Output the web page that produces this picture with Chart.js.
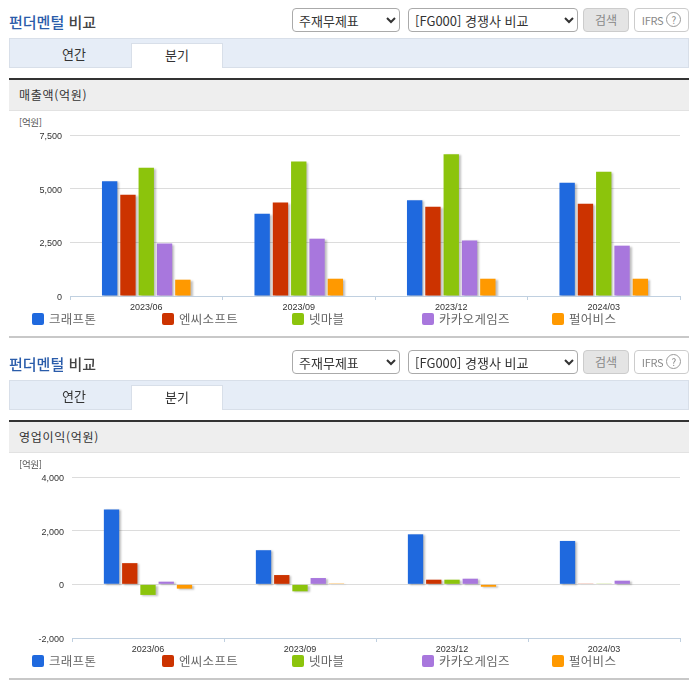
<!DOCTYPE html>
<html lang="ko">
<head>
<meta charset="utf-8">
<title>펀더멘털 비교</title>
<script src="https://cdn.jsdelivr.net/npm/chart.js@4"></script>
<style>
html, body { margin: 0; padding: 0; background: #fff; }
body { position: relative; width: 696px; height: 684px; overflow: hidden; font-family: "Noto Sans CJK KR", "Noto Sans", sans-serif; color: #333; }
.section { position: absolute; left: 0; width: 696px; height: 342px; }
.section > * { position: absolute; box-sizing: border-box; }
.title { left: 9px; top: 11px; font-size: 15px; font-weight: 500; line-height: 22px; color: #444; }
.title b { font-weight: 500; color: #2a5caa; }
select { height: 24px; top: 8px; font-size: 13px; font-family: inherit; color: #333; background: #fff; border: 1px solid #aaa; border-radius: 4px; padding: 0 2px; }
.btn { top: 8px; height: 24px; border: 1px solid #ccc; border-radius: 4px; font-size: 12px; line-height: 22px; text-align: center; color: #888; }
.btn em { display: inline-block; width: 13px; height: 13px; margin-left: 3px; border: 1px solid #999; border-radius: 50%; font-style: normal; font-size: 10px; line-height: 13px; vertical-align: 1px; }
.tabs { left: 9px; top: 38px; width: 680px; height: 30px; background: #e6edf7; border: 1px solid #d8dfe9; }
.tab { top: 43px; height: 25px; width: 92px; font-size: 13px; line-height: 22px; text-align: center; }
.tab.on { background: #fff; border: 1px solid #d8dfe9; border-bottom: none; }
.dark { left: 9px; top: 78px; width: 680px; height: 2px; background: #333; }
.strip { left: 9px; top: 80px; width: 680px; height: 31px; background: #eee; border-bottom: 1px solid #e2e2e2; padding-left: 10px; font-size: 12px; line-height: 29px; letter-spacing: .7px; }
.unit { left: 19px; top: 116px; font-size: 9.5px; line-height: 13px; color: #555; letter-spacing: -.3px; }
canvas { position: absolute; left: 0; top: 115px; }
.legend-item { top: 310px; height: 18px; font-size: 12.5px; line-height: 18px; color: #666; white-space: nowrap; letter-spacing: .3px; }
.legend-item i { position: absolute; left: 0; top: 3px; width: 12px; height: 12px; border-radius: 2px; }
.legend-item span { position: absolute; left: 17px; top: 0; }
.rule { left: 9px; top: 336px; width: 680px; height: 2px; background: #c8c8c8; }
</style>
</head>
<body>
<script>
let categorias = ['2023/06', '2023/09', '2023/12', '2024/03']
let empresas = ['크래프톤', '엔씨소프트', '넷마블', '카카오게임즈', '펄어비스']
let cores = ['#1f69de', '#cc3300', '#8cc40c', '#a877dd', '#ff9900']

// 매출액 (억원)
let vendasKrafton = [5340, 3835, 4456, 5280]
let vendasNc = [4720, 4350, 4160, 4300]
let vendasNetmarble = [5980, 6260, 6600, 5790]
let vendasKakao = [2440, 2670, 2590, 2345]
let vendasPearl = [760, 805, 805, 805]

// 영업이익 (억원)
let lucroKrafton = [2790, 1272, 1864, 1617]
let lucroNc = [790, 346, 173, 25]
let lucroNetmarble = [-395, -260, 173, 25]
let lucroKakao = [99, 235, 210, 136]
let lucroPearl = [-160, 30, -90, 0]

let vendas = [vendasKrafton, vendasNc, vendasNetmarble, vendasKakao, vendasPearl]
let lucros = [lucroKrafton, lucroNc, lucroNetmarble, lucroKakao, lucroPearl]

let sombra = {
    id: 'sombra',
    beforeDatasetsDraw(chart) {
        let ctx = chart.ctx
        ctx.save()
        ctx.shadowColor = 'rgba(0, 0, 0, 0.25)'
        ctx.shadowBlur = 2
        ctx.shadowOffsetX = 2
        ctx.shadowOffsetY = 1
    },
    afterDatasetsDraw(chart) {
        chart.ctx.restore()
    }
}

function montarSecao(top, rotulo) {
    let secao = document.createElement('div')
    secao.className = 'section'
    secao.style.top = top + 'px'
    let legenda = ''
    for (let i = 0; i < empresas.length; i++) {
        legenda += `<div class="legend-item" style="left:${32 + i * 130}px"><i style="background:${cores[i]}"></i><span>${empresas[i]}</span></div>`
    }
    secao.innerHTML = `
        <div class="title"><b>펀더멘털</b> 비교</div>
        <select style="left:292px;width:108px"><option>주재무제표</option></select>
        <select style="left:408px;width:170px"><option>[FG000] 경쟁사 비교</option></select>
        <div class="btn" style="left:583px;width:46px;background:#e4e4e4">검색</div>
        <div class="btn" style="left:634px;width:55px;font-size:11px;letter-spacing:-.3px">IFRS<em>?</em></div>
        <div class="tabs"></div>
        <div class="tab" style="left:28px">연간</div>
        <div class="tab on" style="left:131px">분기</div>
        <div class="dark"></div>
        <div class="strip">${rotulo}</div>
        <div class="unit">[억원]</div>
        <canvas width="696" height="200"></canvas>
        ${legenda}
        <div class="rule"></div>`
    document.body.appendChild(secao)
    return secao.querySelector('canvas')
}

function desenhar(canvas, valores, minimo, maximo, passo, esquerda) {
    let datasets = []
    for (let i = 0; i < empresas.length; i++) {
        datasets.push({
            label: empresas[i],
            data: valores[i],
            backgroundColor: cores[i],
            barPercentage: 0.84,
            categoryPercentage: 0.6
        })
    }
    new Chart(canvas.getContext('2d'), {
        type: 'bar',
        data: { labels: categorias, datasets: datasets },
        plugins: [sombra],
        options: {
            responsive: false,
            animation: false,
            devicePixelRatio: 1,
            layout: { padding: { top: 20, right: 16, bottom: 0, left: 0 } },
            plugins: { legend: { display: false }, tooltip: { enabled: false } },
            scales: {
                x: {
                    afterFit: (eixo) => { eixo.height = 19 },
                    border: { color: '#c0d0e0' },
                    grid: { drawOnChartArea: false, color: '#c0d0e0', tickLength: 4 },
                    ticks: { color: '#333', padding: 2, maxRotation: 0, font: { family: 'Liberation Sans', size: 9 } }
                },
                y: {
                    min: minimo,
                    max: maximo,
                    afterFit: (eixo) => { eixo.width = esquerda },
                    border: { display: false },
                    grid: { color: '#dcdcdc', drawTicks: false },
                    ticks: {
                        stepSize: passo,
                        color: '#333',
                        padding: 8,
                        labelOffset: 1.5,
                        font: { family: 'Liberation Sans', size: 9 },
                        callback: (v) => v.toLocaleString('en-US')
                    }
                }
            }
        }
    })
}

desenhar(montarSecao(0, '매출액(억원)'), vendas, 0, 7500, 2500, 70)
desenhar(montarSecao(342, '영업이익(억원)'), lucros, -2000, 4000, 2000, 72)
</script>
</body>
</html>
